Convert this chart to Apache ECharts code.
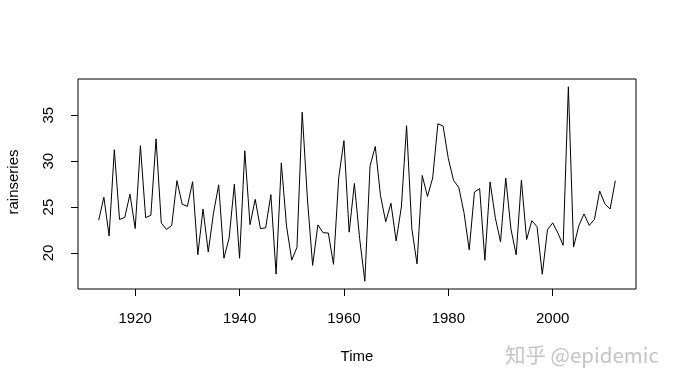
<!DOCTYPE html>
<html>
<head>
<meta charset="utf-8">
<script src="https://cdn.jsdelivr.net/npm/echarts@6/dist/echarts.min.js"></script>
<style>html,body{margin:0;padding:0;background:#fff;}#c{width:677px;height:387px;}</style>
</head>
<body>
<div id="c"></div>
<script>
const startYear = 1913;
const rainseries = [23.56,26.07,21.86,31.24,23.65,23.88,26.41,22.67,31.69,23.86,24.11,32.43,23.26,22.57,23.00,27.88,25.32,25.08,27.76,19.82,24.78,20.12,24.34,27.42,19.44,21.63,27.49,19.43,31.13,23.09,25.85,22.65,22.75,26.36,17.70,29.81,22.93,19.22,20.63,35.34,25.89,18.65,23.06,22.21,22.18,18.77,28.21,32.24,22.27,27.57,21.59,16.93,29.48,31.60,26.25,23.40,25.42,21.32,25.02,33.86,22.67,18.82,28.44,26.16,28.17,34.08,33.82,30.28,27.92,27.14,24.40,20.35,26.64,27.01,19.21,27.74,23.85,21.23,28.15,22.61,19.80,27.94,21.47,23.52,22.86,17.69,22.54,23.28,22.17,20.84,38.10,20.65,22.97,24.26,23.01,23.67,26.75,25.36,24.79,27.88];
const xTicks = [1920,1940,1960,1980,2000];
const yTicks = [20,25,30,35];

const years = rainseries.map((v,i)=>startYear+i);
const data = rainseries.map((v,i)=>[years[i], v]);
const xr = [years[0], years[years.length-1]];
const yr = [Math.min(...rainseries), Math.max(...rainseries)];
const xpad = (xr[1]-xr[0])*0.04, ypad = (yr[1]-yr[0])*0.04;
const font = 'Liberation Sans, Arial, sans-serif';

const chart = echarts.init(document.getElementById('c'), null, {renderer:'canvas'});
chart.setOption({
  animation:false,
  backgroundColor:'#fff',
  grid:{left:78, top:79, width:558, height:210, show:true, borderColor:'#000', borderWidth:1, backgroundColor:'transparent'},
  xAxis:{type:'value', min:xr[0]-xpad, max:xr[1]+xpad,
    axisLine:{show:false}, splitLine:{show:false},
    axisTick:{show:true, inside:false, length:7, lineStyle:{color:'#000'}, customValues:xTicks},
    axisLabel:{show:true, customValues:xTicks, margin:22, color:'#000', fontSize:15, fontFamily:font, formatter:v=>String(v)}},
  yAxis:{type:'value', min:yr[0]-ypad, max:yr[1]+ypad,
    axisLine:{show:false}, splitLine:{show:false},
    axisTick:{show:true, inside:false, length:7, lineStyle:{color:'#000'}, customValues:yTicks},
    axisLabel:{show:true, customValues:yTicks, rotate:90, margin:22, color:'#000', fontSize:15, fontFamily:font, formatter:v=>String(v)}},
  series:[{type:'line', data:data, symbol:'none', lineStyle:{color:'#000', width:1}, silent:true}],
  graphic:[
    {type:'text', style:{text:'Time', fill:'#000', font:'15px '+font, textAlign:'center', textVerticalAlign:'middle', x:357, y:357}},
    {type:'text', rotation:Math.PI/2, x:14, y:182, style:{text:'rainseries', fill:'#000', font:'15px '+font, textAlign:'center', textVerticalAlign:'middle'}},
    {type:'text', x:505, y:355, style:{text:'知乎 @epidemic', fill:'#c4c4c4', font:'20.5px "Noto Sans CJK SC", sans-serif', textAlign:'left', textVerticalAlign:'middle'}}
  ]
});
</script>
</body>
</html>
